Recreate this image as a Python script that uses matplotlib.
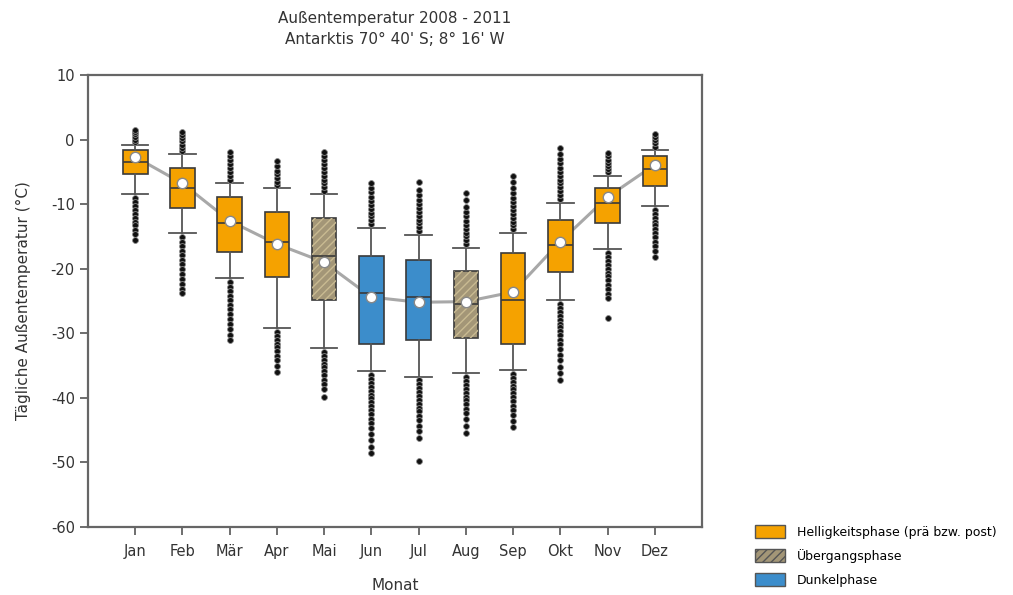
import matplotlib
matplotlib.use("Agg")
import matplotlib.pyplot as plt
from matplotlib.patches import Patch, PathPatch

plt.rcParams["axes.unicode_minus"] = False

months = ["Jan", "Feb", "Mär", "Apr", "Mai", "Jun", "Jul", "Aug", "Sep", "Okt", "Nov", "Dez"]
phase = ["hell", "hell", "hell", "hell", "ueber", "dunkel", "dunkel", "ueber", "hell", "hell", "hell", "hell"]

whis_hi = [-0.8, -2.3, -6.7, -7.5, -8.5, -13.7, -14.8, -16.8, -14.5, -9.8, -5.6, -1.6]
q3 = [-1.6, -4.4, -8.9, -11.2, -12.2, -18.0, -18.7, -20.4, -17.6, -12.4, -7.5, -2.6]
median = [-3.5, -7.5, -12.9, -15.9, -18.0, -23.8, -24.4, -25.5, -24.8, -16.4, -9.8, -4.5]
mean = [-2.7, -6.8, -12.6, -16.2, -19.0, -24.4, -25.2, -25.1, -23.6, -15.8, -8.9, -3.9]
q1 = [-5.4, -10.6, -17.4, -21.3, -24.9, -31.6, -31.1, -30.8, -31.6, -20.5, -12.9, -7.2]
whis_lo = [-8.5, -14.5, -21.5, -29.2, -32.3, -35.9, -36.7, -36.2, -35.7, -24.9, -17.0, -10.3]

out_hi = [
    [-0.4, 0.0, 0.4, 0.8, 1.1, 1.5],
    [-1.8, -1.3, -0.8, -0.3, 0.2, 0.7, 1.2],
    [-6.2, -5.6, -5.0, -4.4, -3.8, -3.2, -2.6, -2.0],
    [-7.0, -6.5, -6.0, -5.4, -4.8, -4.1, -3.4],
    [-8.0, -7.4, -6.8, -6.2, -5.6, -5.0, -4.4, -3.8, -3.2, -2.6, -1.9],
    [-13.1, -12.5, -11.9, -11.3, -10.7, -10.1, -9.5, -8.9, -8.2, -7.5, -6.7],
    [-14.2, -13.6, -13.0, -12.4, -11.8, -11.2, -10.6, -10.0, -9.3, -8.6, -7.8, -6.5],
    [-16.2, -15.6, -15.0, -14.4, -13.8, -13.2, -12.6, -11.9, -11.2, -10.4, -9.4, -8.3],
    [-13.9, -13.3, -12.7, -12.1, -11.5, -10.9, -10.3, -9.7, -9.0, -8.3, -7.5, -6.6, -5.7],
    [-9.2, -8.6, -8.0, -7.4, -6.8, -6.2, -5.6, -5.0, -4.4, -3.7, -3.0, -2.2, -1.3],
    [-5.1, -4.6, -4.1, -3.6, -3.1, -2.6, -2.1],
    [-1.1, -0.6, -0.1, 0.4, 0.8],
]
out_lo = [
    [-9.1, -9.7, -10.3, -10.9, -11.5, -12.1, -12.7, -13.3, -14.0, -14.7, -15.5],
    [-15.1, -15.8, -16.5, -17.2, -17.9, -18.6, -19.3, -20.0, -20.8, -21.6, -22.4, -23.1, -23.8],
    [-22.1, -22.8, -23.5, -24.2, -24.9, -25.6, -26.3, -27.0, -27.8, -28.6, -29.4, -30.2, -31.0],
    [-29.8, -30.4, -31.0, -31.6, -32.2, -32.8, -33.5, -34.2, -35.0, -36.0],
    [-32.9, -33.5, -34.1, -34.7, -35.3, -35.9, -36.5, -37.2, -37.9, -38.7, -39.8],
    [-36.5, -37.1, -37.7, -38.3, -38.9, -39.5, -40.1, -40.7, -41.3, -41.9, -42.5, -43.2, -43.9, -44.7, -45.6, -46.6, -47.6, -48.6],
    [-37.3, -37.9, -38.5, -39.1, -39.7, -40.3, -40.9, -41.5, -42.1, -42.8, -43.5, -44.3, -45.2, -46.2, -49.8],
    [-36.8, -37.4, -38.0, -38.6, -39.2, -39.8, -40.4, -41.0, -41.7, -42.4, -43.2, -44.3, -45.4],
    [-36.3, -36.9, -37.5, -38.1, -38.7, -39.3, -39.9, -40.5, -41.2, -41.9, -42.7, -43.6, -44.5],
    [-25.5, -26.1, -26.7, -27.3, -27.9, -28.5, -29.1, -29.7, -30.3, -31.0, -31.7, -32.5, -33.3, -34.2, -35.2, -36.2, -37.3],
    [-17.6, -18.2, -18.8, -19.4, -20.0, -20.6, -21.2, -21.8, -22.5, -23.2, -23.9, -24.6, -27.7],
    [-10.9, -11.5, -12.1, -12.7, -13.3, -13.9, -14.5, -15.1, -15.8, -16.5, -17.3, -18.2],
]

phase_colors = {"hell": "#F5A200", "ueber": "#A39677", "dunkel": "#3C8DCB"}
phase_labels = {"hell": "Helligkeitsphase (prä bzw. post)", "ueber": "Übergangsphase", "dunkel": "Dunkelphase"}

title = "Außentemperatur 2008 - 2011\nAntarktis 70° 40' S; 8° 16' W"
ylabel = "Tägliche Außentemperatur (°C)"
xlabel = "Monat"

fig = plt.figure(figsize=(10.13, 5.95), dpi=100)
ax = fig.add_axes([0.0869, 0.1143, 0.6061, 0.7597])

positions = list(range(1, len(months) + 1))
stats = []
for i in range(len(months)):
    stats.append(dict(med=median[i], q1=q1[i], q3=q3[i], whislo=whis_lo[i],
                      whishi=whis_hi[i], mean=mean[i],
                      fliers=out_hi[i] + out_lo[i], label=months[i]))

ax.plot(positions, mean, color="#a8a8a8", lw=2.2, zorder=1)

edge = "#3a3a3a"
bp = ax.bxp(stats, positions=positions, widths=0.52, patch_artist=True,
            showmeans=False, capwidths=0.56,
            boxprops=dict(edgecolor=edge, linewidth=1.2),
            whiskerprops=dict(color="#555555", linewidth=1.3),
            capprops=dict(color="#555555", linewidth=1.3),
            medianprops=dict(color=edge, linewidth=1.2),
            flierprops=dict(marker="o", markersize=4.2, markerfacecolor="#111111",
                            markeredgecolor="#888888", markeredgewidth=0.6))
for i, box in enumerate(bp["boxes"]):
    box.set_facecolor(phase_colors[phase[i]])
    box.set_zorder(2)
    if phase[i] == "ueber":
        hp = PathPatch(box.get_path(), facecolor="none", edgecolor="#c9bb92",
                       hatch="////", lw=0, zorder=2.1)
        ax.add_patch(hp)
for m in bp["medians"]:
    m.set_zorder(2.5)

ax.plot(positions, mean, linestyle="none", marker="o", markersize=7.5,
        markerfacecolor="white", markeredgecolor="#888888", markeredgewidth=1.0, zorder=4)

ax.set_xlim(0, 13)
ax.set_ylim(-60, 10)
ax.set_yticks([10, 0, -10, -20, -30, -40, -50, -60])
ax.set_xticks(positions)
ax.set_xticklabels(months)
ax.tick_params(axis="both", direction="out", length=6, width=1.2, color="#555555",
               labelsize=10.5, labelcolor="#333333")
ax.tick_params(axis="x", pad=6)
for s in ax.spines.values():
    s.set_color("#666666")
    s.set_linewidth(1.6)

ax.set_title(title, fontsize=11, color="#333333", pad=22, linespacing=1.55)
ax.set_ylabel(ylabel, fontsize=11, color="#333333", labelpad=14)
ax.set_xlabel(xlabel, fontsize=11, color="#333333", labelpad=14)

handles = [Patch(facecolor=phase_colors[k], edgecolor="#555555", label=phase_labels[k],
                 hatch=("////" if k == "ueber" else None))
           for k in ["hell", "ueber", "dunkel"]]
fig.legend(handles=handles, loc="upper left", bbox_to_anchor=(0.745, 0.117),
           frameon=False, fontsize=9, handlelength=2.4, handleheight=1.2,
           labelspacing=0.8, handletextpad=1.0, borderaxespad=0, borderpad=0)

fig.savefig("out.png", dpi=100)
